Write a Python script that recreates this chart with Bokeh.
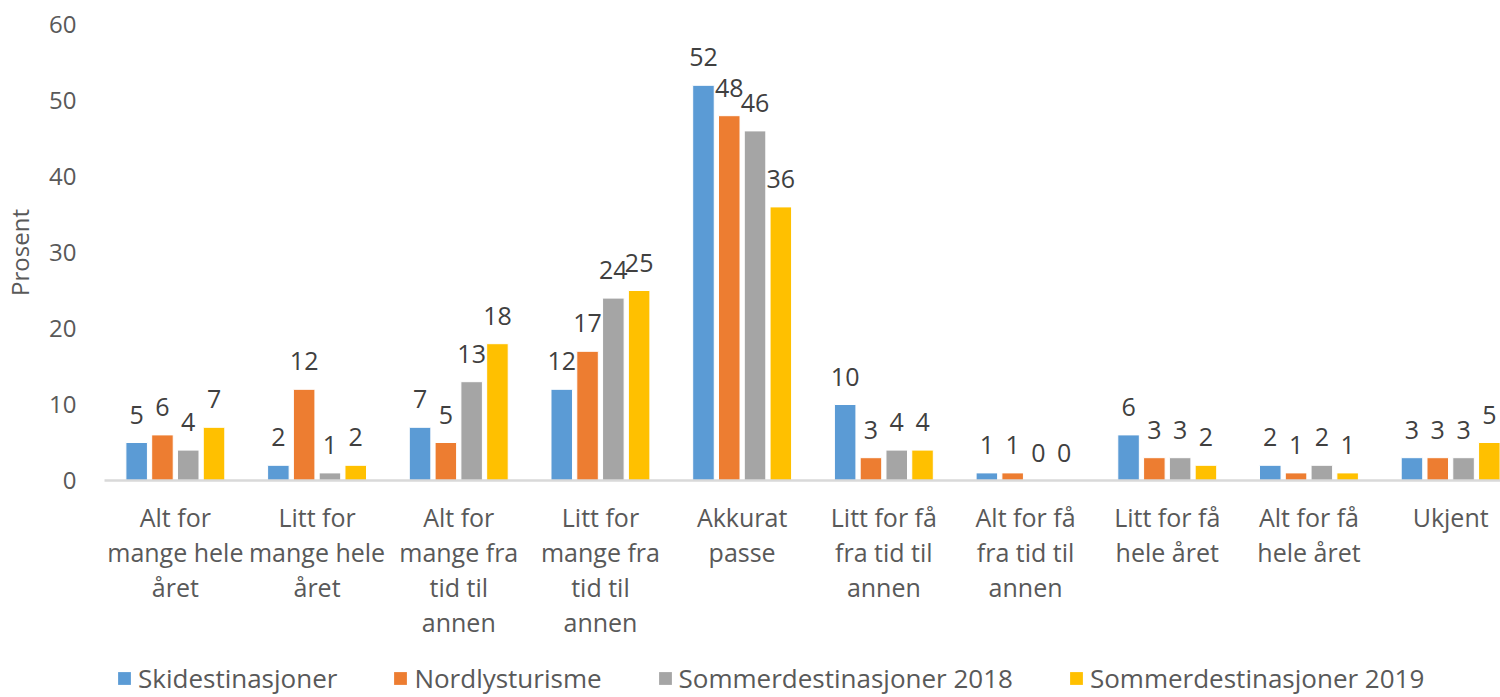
from bokeh.plotting import figure
from bokeh.layouts import column
from bokeh.models import (ColumnDataSource, Range1d, FixedTicker, Legend, LegendItem)
from bokeh.transform import dodge
from bokeh.core.properties import value
from bokeh.embed import file_html
from bokeh.resources import INLINE

# ---- data ----
categories = [
    "Alt for\nmange hele\nåret",
    "Litt for\nmange hele\nåret",
    "Alt for\nmange fra\ntid til\nannen",
    "Litt for\nmange fra\ntid til\nannen",
    "Akkurat\npasse",
    "Litt for få\nfra tid til\nannen",
    "Alt for få\nfra tid til\nannen",
    "Litt for få\nhele året",
    "Alt for få\nhele året",
    "Ukjent",
]
series_names = ["Skidestinasjoner", "Nordlysturisme",
                "Sommerdestinasjoner 2018", "Sommerdestinasjoner 2019"]
skidestinasjoner = [5, 2, 7, 12, 52, 10, 1, 6, 2, 3]
nordlysturisme = [6, 12, 5, 17, 48, 3, 1, 3, 1, 3]
sommer_2018 = [4, 1, 13, 24, 46, 4, 0, 3, 2, 3]
sommer_2019 = [7, 2, 18, 25, 36, 4, 0, 2, 1, 5]
y_ticks = [0, 10, 20, 30, 40, 50, 60]

# ---- styles ----
colors = ["#5B9BD5", "#ED7D31", "#A5A5A5", "#FFC000"]
offsets = [-0.273, -0.091, 0.091, 0.273]
bar_w = 0.152
FONT = "Open Sans"
TXT = "#595959"

series = [skidestinasjoner, nordlysturisme, sommer_2018, sommer_2019]
xs = list(range(len(categories)))
data = dict(x=xs)
for i, s in enumerate(series):
    data[f"v{i}"] = s
    data[f"t{i}"] = [str(v) for v in s]
src = ColumnDataSource(data)

MAIN_H = 645
p = figure(width=1500, height=MAIN_H,
           x_range=Range1d(-0.5, -0.5 + 1396 / 141.7),
           y_range=Range1d(0, 60),
           output_backend="svg", toolbar_location=None,
           min_border_left=104, min_border_right=0,
           min_border_top=24, min_border_bottom=MAIN_H - 480)
p.outline_line_color = None
p.xgrid.visible = False
p.ygrid.visible = False

for i in range(4):
    p.vbar(x=dodge("x", offsets[i]), top=f"v{i}", width=bar_w, source=src,
           fill_color=colors[i], line_color="white", line_width=1)
    p.text(x=dodge("x", offsets[i]), y=f"v{i}", text=f"t{i}", source=src,
           y_offset=-28, text_align="center", text_baseline="alphabetic",
           text_font=value(FONT), text_font_size="25px", text_color="#404040")

# x axis
xa = p.xaxis[0]
xa.ticker = FixedTicker(ticks=xs)
xa.major_label_overrides = {i: c for i, c in zip(xs, categories)}
xa.axis_line_color = "#D9D9D9"
xa.axis_line_width = 2.5
xa.major_tick_line_color = None
xa.minor_tick_line_color = None
xa.major_tick_out = 0
xa.major_label_standoff = 19
xa.major_label_text_font = FONT
xa.major_label_text_font_size = "25px"
xa.major_label_text_color = TXT
xa.major_label_text_line_height = 1.03

# y axis
ya = p.yaxis[0]
ya.ticker = FixedTicker(ticks=y_ticks)
ya.axis_line_color = None
ya.major_tick_line_color = None
ya.minor_tick_line_color = None
ya.major_tick_out = 0
ya.major_label_standoff = 28
ya.major_label_text_font = FONT
ya.major_label_text_font_size = "24px"
ya.major_label_text_color = TXT
ya.axis_label = "Prosent"
ya.axis_label_text_font = FONT
ya.axis_label_text_font_size = "24px"
ya.axis_label_text_font_style = "normal"
ya.axis_label_text_color = TXT
ya.axis_label_standoff = 10

# ---- legend strip below the chart ----
LEG_H = 697 - MAIN_H
pl = figure(width=1500, height=LEG_H, x_range=Range1d(-30, -29), y_range=Range1d(0, 1),
            output_backend="svg", toolbar_location=None,
            min_border_left=104, min_border_right=0, min_border_top=0, min_border_bottom=0)
pl.axis.visible = False
pl.xgrid.visible = False
pl.ygrid.visible = False
pl.outline_line_color = None
# same series drawn out of view in this strip, only so that the legend has glyphs
leg_renderers = [pl.vbar(x="x", top=f"v{i}", width=bar_w, source=src,
                         fill_color=colors[i], line_color=None) for i in range(4)]

legend = Legend(items=[LegendItem(label=n, renderers=[r]) for n, r in zip(series_names, leg_renderers)],
                orientation="horizontal", location=(12, 1),
                glyph_width=16, glyph_height=16, label_standoff=6, spacing=55,
                padding=0, margin=0, border_line_color=None, background_fill_alpha=0,
                label_text_font=FONT, label_text_font_size="26px", label_text_color=TXT)
pl.add_layout(legend)

layout = column(p, pl, spacing=0)
open("out.html", "w").write(file_html(layout, INLINE))
